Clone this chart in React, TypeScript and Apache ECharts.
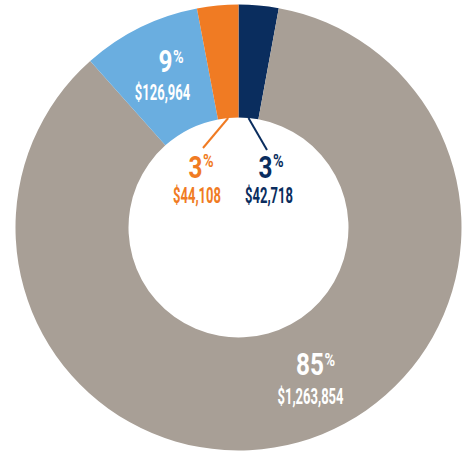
import React, { useEffect, useRef } from 'react';
import * as echarts from 'echarts';

const categories = ['Segment A', 'Segment B', 'Segment C', 'Segment D'];
const amounts = [42718, 1263854, 126964, 44108];
const percents = [3, 85, 9, 3];
const colors = ['#0a2d5e', '#a89f96', '#6aaee0', '#f07b23'];

const CX = 238.5;
const CY = 227.5;
const R0 = 110;
const R1 = 223;
const FONT = 'Roboto, "Liberation Sans", sans-serif';
const NUM_SCALE = 0.76;
const PCT_SCALE = 0.8;
const AMT_SCALE = 0.59;

const labelStyle: any[] = [
  { x: 272.5, numY: 167.5, pctY: 160.5, amtX: 269, amtY: 195.5, fill: '#0a2d5e', lead: [267, 150] },
  { x: 324, numY: 364, pctY: 359.5, amtX: 310.5, amtY: 396, fill: '#ffffff' },
  { x: 172.5, numY: 61.5, pctY: 57, amtX: 162.5, amtY: 92.5, fill: '#ffffff' },
  { x: 202.5, numY: 167.5, pctY: 160.5, amtX: 197, amtY: 195.5, fill: '#f07b23', lead: [203, 148] },
];

function buildGraphics() {
  const total = amounts.reduce((a, b) => a + b, 0);
  let cum = 0;
  const els: any[] = [];
  amounts.forEach((v, i) => {
    const mid = ((cum + v / 2) / total) * Math.PI * 2;
    cum += v;
    const s = labelStyle[i];
    els.push({
      type: 'text', x: s.x, y: s.numY, scaleX: NUM_SCALE, z: 100,
      style: { text: String(percents[i]), font: `bold 32px ${FONT}`, fill: s.fill, align: 'right', verticalAlign: 'middle' },
    });
    els.push({
      type: 'text', x: s.x + 0.5, y: s.pctY, scaleX: PCT_SCALE, z: 100,
      style: { text: '%', font: `bold 18px ${FONT}`, fill: s.fill, align: 'left', verticalAlign: 'middle' },
    });
    els.push({
      type: 'text', x: s.amtX, y: s.amtY, scaleX: AMT_SCALE, z: 100,
      style: { text: '$' + v.toLocaleString('en-US'), font: `bold 22px ${FONT}`, fill: s.fill, align: 'center', verticalAlign: 'middle' },
    });
    if (s.lead) {
      els.push({
        type: 'line', z: 100,
        shape: { x1: CX + R0 * Math.sin(mid), y1: CY - R0 * Math.cos(mid), x2: s.lead[0], y2: s.lead[1] },
        style: { stroke: s.fill, lineWidth: 2 },
      });
    }
  });
  return els;
}

export default function App() {
  const ref = useRef<HTMLDivElement>(null);
  useEffect(() => {
    if (!ref.current) return;
    const chart = echarts.init(ref.current, undefined, { renderer: 'svg' });
    chart.setOption({
      animation: false,
      backgroundColor: '#ffffff',
      series: [
        {
          type: 'pie',
          center: [CX, CY],
          radius: [R0, R1],
          startAngle: 90,
          clockwise: true,
          silent: true,
          label: { show: false },
          labelLine: { show: false },
          emphasis: { disabled: true },
          itemStyle: { borderWidth: 0 },
          data: categories.map((name, i) => ({ name, value: amounts[i], itemStyle: { color: colors[i] } })),
        },
      ],
      graphic: { elements: buildGraphics() },
    });
    return () => chart.dispose();
  }, []);
  return <div ref={ref} style={{ position: 'absolute', left: 0, top: 0, width: 462, height: 452 }} />;
}
